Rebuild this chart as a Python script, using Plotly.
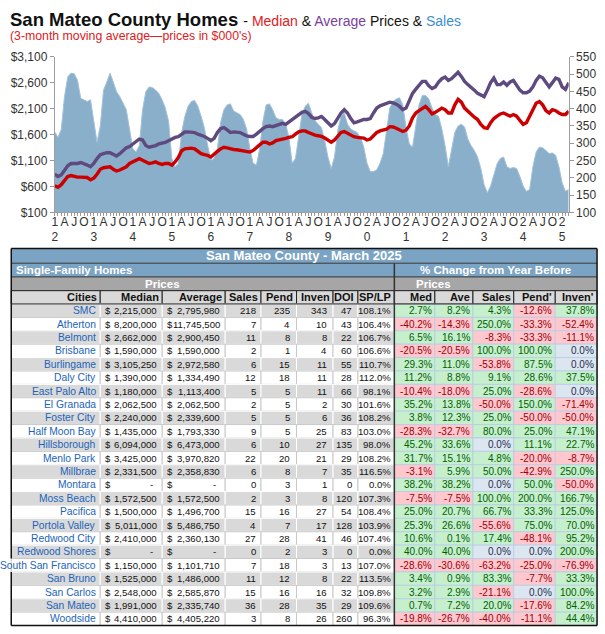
import plotly.graph_objects as go

W, H = 605, 634

# ---------------- chart data (3-month moving averages, Jan 2012 .. Mar 2025) ----------------
months = [f"{2012 + k // 12}-{k % 12 + 1:02d}" for k in range(159)]

sales = [333, 317, 340, 435, 492, 503, 501, 482, 430, 426, 421, 426,
         364, 303, 350, 454, 477, 503, 477, 449, 435, 416, 397, 341,
         284, 275, 293, 397, 449, 463, 461, 454, 444, 426, 402, 364,
         256, 232, 242, 331, 378, 407, 421, 424, 407, 378, 345, 294,
         251, 256, 284, 360, 397, 411, 414, 393, 388, 383, 369, 341,
         284, 242, 237, 284, 364, 411, 414, 397, 374, 369, 369, 355,
         317, 242, 256, 322, 383, 407, 416, 388, 366, 355, 345, 307,
         260, 227, 260, 336, 378, 388, 355, 341, 336, 331, 317, 289,
         242, 218, 218, 223, 242, 270, 336, 402, 421, 428, 432, 411,
         345, 298, 289, 355, 411, 438, 438, 428, 402, 383, 378, 341,
         293, 232, 279, 331, 350, 355, 347, 312, 293, 279, 260, 227,
         180, 157, 176, 208, 241, 256, 260, 232, 227, 230, 227, 204,
         176, 161, 166, 232, 275, 289, 287, 279, 270, 272, 265, 232,
         185, 161, 166]

median = [615, 584, 634, 710, 791, 810, 791, 779, 779, 772, 772, 728,
          760, 835, 930, 961, 967, 980, 930, 898, 917, 949, 980, 1043,
          1074, 1106, 1137, 1106, 1074, 1043, 1056, 1074, 1043, 1024, 1043, 1043,
          1012, 1074, 1160, 1290, 1326, 1339, 1339, 1326, 1276, 1232, 1213, 1200,
          1169, 1213, 1276, 1326, 1357, 1345, 1326, 1313, 1307, 1295, 1295, 1276,
          1263, 1295, 1339, 1402, 1452, 1452, 1420, 1439, 1483, 1496, 1502, 1527,
          1546, 1559, 1609, 1653, 1672, 1672, 1640, 1609, 1590, 1578, 1565, 1534,
          1484, 1452, 1496, 1578, 1641, 1660, 1622, 1597, 1559, 1546, 1546, 1534,
          1496, 1515, 1578, 1641, 1672, 1685, 1704, 1754, 1748, 1722, 1685, 1660,
          1685, 1767, 1924, 2018, 2062, 2100, 2144, 2081, 1999, 2030, 2062, 2112,
          2081, 2018, 2018, 2175, 2282, 2226, 2112, 2050, 1987, 1936, 1892, 1798,
          1735, 1722, 1829, 1911, 1955, 1999, 2018, 1987, 1955, 1987, 1955, 1873,
          1798, 1829, 1955, 2100, 2207, 2238, 2175, 2062, 2018, 2081, 2062, 2018,
          1987, 1987, 2050]

average = [835, 791, 823, 917, 999, 1043, 1043, 1043, 1062, 1043, 1012, 980,
           1043, 1137, 1213, 1232, 1251, 1251, 1213, 1188, 1232, 1295, 1345, 1370,
           1420, 1452, 1515, 1496, 1389, 1357, 1370, 1389, 1420, 1433, 1452, 1483,
           1515, 1546, 1560, 1615, 1650, 1653, 1653, 1640, 1609, 1590, 1565, 1527,
           1483, 1527, 1640, 1716, 1735, 1691, 1640, 1653, 1653, 1640, 1609, 1577,
           1565, 1565, 1609, 1672, 1716, 1754, 1766, 1754, 1779, 1798, 1817, 1798,
           1842, 1880, 1924, 1987, 2030, 2050, 2005, 1936, 1911, 1924, 1949, 1892,
           1829, 1767, 1811, 1911, 2018, 2081, 2018, 1911, 1829, 1848, 1873, 1892,
           1892, 1911, 2018, 2112, 2156, 2175, 2200, 2226, 2213, 2188, 2144, 2081,
           2112, 2251, 2396, 2477, 2553, 2628, 2628, 2540, 2490, 2521, 2616, 2679,
           2710, 2647, 2679, 2741, 2804, 2723, 2628, 2565, 2521, 2458, 2396, 2364,
           2333, 2458, 2603, 2691, 2565, 2565, 2616, 2553, 2616, 2647, 2565, 2458,
           2408, 2408, 2440, 2521, 2647, 2729, 2697, 2603, 2521, 2603, 2691, 2666,
           2521, 2471, 2600]

tick_text = ["1<br>2", "A", "J", "O", "1<br>3", "A", "J", "O", "1<br>4", "A", "J", "O",
             "1<br>5", "A", "J", "O", "1<br>6", "A", "J", "O", "1<br>7", "A", "J", "O",
             "1<br>8", "A", "J", "O", "1<br>9", "A", "J", "O", "2<br>0", "A", "J", "O",
             "2<br>1", "A", "J", "O", "2<br>2", "A", "J", "O", "2<br>3", "A", "J", "O",
             "2<br>4", "A", "J", "O", "2<br>5"]

# ---------------- table data ----------------
cities = ["SMC", "Atherton", "Belmont", "Brisbane", "Burlingame", "Daly City",
          "East Palo Alto", "El Granada", "Foster City", "Half Moon Bay", "Hillsborough",
          "Menlo Park", "Millbrae", "Montara", "Moss Beach", "Pacifica", "Portola Valley",
          "Redwood City", "Redwood Shores", "South San Francisco", "San Bruno",
          "San Carlos", "San Mateo", "Woodside"]
med_price = [2215000, 8200000, 2662000, 1590000, 3105250, 1390000, 1180000, 2062500,
             2240000, 1435000, 6094000, 3425000, 2331500, None, 1572500, 1500000,
             5011000, 2410000, None, 1150000, 1525000, 2548000, 1991000, 4410000]
avg_price = [2795980, 11745500, 2900450, 1590000, 2972580, 1334490, 1113400, 2062500,
             2339600, 1793330, 6473000, 3970820, 2358830, None, 1572500, 1496700,
             5486750, 2360130, None, 1101710, 1486000, 2585870, 2335740, 4405220]
n_sales = [218, 7, 11, 2, 6, 12, 5, 2, 5, 9, 6, 22, 6, 0, 2, 15, 4, 27, 0, 7, 11, 15, 36, 3]
n_pend = [235, 4, 8, 1, 15, 18, 5, 5, 5, 5, 10, 20, 8, 3, 3, 16, 7, 28, 2, 18, 12, 16, 28, 8]
n_inven = [343, 10, 8, 4, 11, 11, 11, 2, 6, 25, 27, 21, 7, 1, 8, 27, 17, 41, 3, 3, 8, 16, 35, 26]
n_doi = [47, 43, 22, 60, 55, 28, 66, 30, 36, 83, 135, 29, 35, 0, 120, 54, 128, 46, 0, 13, 22, 32, 29, 260]
sp_lp = [108.1, 106.4, 106.7, 106.6, 110.7, 112.0, 98.1, 101.6, 108.2, 103.0, 98.0, 108.2,
         116.5, 0.0, 107.3, 108.4, 103.9, 107.4, 0.0, 107.0, 113.5, 109.8, 109.6, 96.3]
chg_med = [2.7, -40.2, 6.5, -20.5, 29.3, 11.2, -10.4, 35.2, 3.8, -28.3, 45.2, 31.7,
           -3.1, 38.2, -7.5, 25.0, 25.3, 10.6, 40.0, -28.6, 3.4, 3.2, 0.7, -19.8]
chg_ave = [8.2, -14.3, 16.1, -20.5, 11.0, 8.8, -18.0, 13.8, 12.3, -32.7, 33.6, 15.1,
           5.9, 38.2, -7.5, 20.7, 26.6, 0.1, 40.0, -30.6, 0.9, 2.9, 7.2, -26.7]
chg_sales = [4.3, 250.0, -8.3, 100.0, -53.8, 9.1, 25.0, -50.0, 25.0, 80.0, 0.0, 4.8,
             50.0, 0.0, 100.0, 66.7, -55.6, 17.4, 0.0, -63.2, 83.3, -21.1, 20.0, -40.0]
chg_pend = [-12.6, -33.3, -33.3, 100.0, 87.5, 28.6, -28.6, 150.0, -50.0, 25.0, 11.1, -20.0,
            -42.9, 50.0, 200.0, 33.3, 75.0, -48.1, 0.0, -25.0, -7.7, 0.0, -17.6, -11.1]
chg_inven = [37.8, -52.4, -11.1, 0.0, 0.0, 37.5, 0.0, -71.4, -50.0, 47.1, 22.7, -8.7,
             250.0, -50.0, 166.7, 125.0, 70.0, 95.2, 200.0, -76.9, 33.3, 100.0, 84.2, 44.4]

# ---------------- figure ----------------
FONT = "Liberation Sans, Arial, sans-serif"
NUM = FONT
NUMSIZE = 9.6
PCTSIZE = 10


def px(x):
    return x / W


def py(y):
    return 1 - y / H


xs = list(range(len(months)))

fig = go.Figure()
fig.add_trace(go.Scatter(x=xs, y=sales, yaxis="y", mode="lines", fill="tozeroy",
                         fillcolor="#8aafcb", line=dict(color="#a3c2da", width=1),
                         hoverinfo="skip", showlegend=False))
fig.add_trace(go.Scatter(x=xs, y=average, yaxis="y2", mode="lines",
                         line=dict(color="#5f4a80", width=3.4), showlegend=False))
fig.add_trace(go.Scatter(x=xs, y=median, yaxis="y2", mode="lines",
                         line=dict(color="#cc0000", width=3.4), showlegend=False))

tick_vals = [xs[k] for k in range(0, len(months), 3)]

fig.update_layout(
    width=W, height=H, autosize=False,
    margin=dict(l=0, r=0, t=0, b=0),
    paper_bgcolor="white", plot_bgcolor="white",
    font=dict(family=FONT, size=12, color="#333333"),
    xaxis=dict(domain=[px(52), px(568.5)], range=[0, len(months) - 1],
               tickmode="array", tickvals=tick_vals, ticktext=tick_text, tickangle=0,
               ticks="outside", ticklen=3, tickcolor="#999999", ticklabelstandoff=-5,
               minor=dict(ticks="outside", ticklen=3, dtick=1, tick0=0, tickcolor="#999999"),
               showline=True, linecolor="#a0a0a0", linewidth=1,
               showgrid=False, zeroline=False,
               tickfont=dict(size=12, color="#333333")),
    yaxis=dict(domain=[py(210), py(51)], range=[100, 550], dtick=50, tick0=100,
               side="right", ticks="outside", ticklen=4, tickcolor="#999999",
               showline=True, linecolor="#a0a0a0", linewidth=1,
               showgrid=False, zeroline=False,
               tickfont=dict(size=12, color="#333333")),
    yaxis2=dict(overlaying="y", side="left", range=[100, 3100], dtick=500, tick0=100,
                tickprefix="$", tickformat=",d",
                ticks="outside", ticklen=4, tickcolor="#999999",
                showline=True, linecolor="#a0a0a0", linewidth=1,
                showgrid=False, zeroline=False,
                tickfont=dict(size=12, color="#333333")),
)

shapes = []
anns = []


def rect(x0, y0, x1, y1, fill, line=None, lw=0):
    shapes.append(dict(type="rect", xref="paper", yref="paper",
                       x0=px(x0), x1=px(x1), y0=py(y1), y1=py(y0),
                       fillcolor=fill, line=dict(color=line or fill, width=lw)))


def seg(x0, y0, x1, y1, color, w):
    shapes.append(dict(type="line", xref="paper", yref="paper",
                       x0=px(x0), x1=px(x1), y0=py(y0), y1=py(y1),
                       line=dict(color=color, width=w)))


def txt(x, y, s, anchor="right", size=NUMSIZE, color="#111111", family=NUM):
    anns.append(dict(x=px(x), y=py(y), xref="paper", yref="paper", text=s,
                     showarrow=False, xanchor=anchor, yanchor="middle",
                     borderpad=0, font=dict(size=size, color=color, family=family)))


# ---- chart titles ----
anns.append(dict(x=px(5), y=py(13), xref="paper", yref="paper", showarrow=False,
                 xanchor="left", yanchor="middle",
                 font=dict(family=FONT, size=18.5, color="#111111"),
                 text="<b>San Mateo County Homes</b> <span style='font-size:14px'>- "
                      "<span style='color:#e0201b'>Median</span> &amp; "
                      "<span style='color:#7a3f9e'>Average</span> Prices &amp; "
                      "<span style='color:#3a8fd0'>Sales</span></span>"))
anns.append(dict(x=px(5), y=py(30), xref="paper", yref="paper", showarrow=False,
                 xanchor="left", yanchor="middle",
                 font=dict(family=FONT, size=12.3, color="#e0201b"),
                 text="(3-month moving average\u2014prices in $000's)"))

# ---- table geometry ----
TL, TR, MID = 8.3, 597.0, 393.3
Y_TITLE, Y_SF, Y_PR, Y_HDR, Y_BODY = 247.0, 262.0, 276.0, 290.0, 303.7
RH = 13.7
left_cols = [TL, 97.7, 160.0, 223.3, 259.3, 295.0, 331.7, 356.7, MID]
right_cols = [MID, 434.0, 472.3, 513.3, 555.0, TR]
Y_END = Y_BODY + RH * len(cities)

BLUE = "#7ba3c3"
GREY = "#a6a6a6"
LIGHT = "#d9d9d9"

rect(TL, Y_TITLE, TR, Y_SF, BLUE)
txt((TL + TR) / 2, (Y_TITLE + Y_SF) / 2, "<b>San Mateo County - March 2025</b>",
    anchor="center", size=13, color="white", family=FONT)
rect(TL, Y_SF, MID, Y_PR, BLUE)
rect(MID, Y_SF, TR, Y_PR, BLUE)
txt(12, (Y_SF + Y_PR) / 2, "<b>Single-Family Homes</b>", anchor="left", size=11.5,
    color="white", family=FONT)
txt((MID + TR) / 2, (Y_SF + Y_PR) / 2, "<b>% Change from Year Before</b>", anchor="center",
    size=11.5, color="white", family=FONT)
rect(TL, Y_PR, MID, Y_HDR, GREY)
rect(MID, Y_PR, TR, Y_HDR, GREY)
txt((left_cols[1] + left_cols[3]) / 2, (Y_PR + Y_HDR) / 2, "<b>Prices</b>", anchor="center",
    size=11.5, color="white", family=FONT)
txt((right_cols[0] + right_cols[2]) / 2, (Y_PR + Y_HDR) / 2, "<b>Prices</b>", anchor="center",
    size=11.5, color="white", family=FONT)

hdr_left = ["Cities", "Median", "Average", "Sales", "Pend", "Inven", "DOI", "SP/LP"]
hdr_right = ["Med", "Ave", "Sales", "Pend'", "Inven'"]
for k, h in enumerate(hdr_left):
    rect(left_cols[k], Y_HDR, left_cols[k + 1], Y_BODY, LIGHT, "#222222", 1)
    txt(left_cols[k + 1] - 2.5, (Y_HDR + Y_BODY) / 2, f"<b>{h}</b>", size=11, color="#111111",
        family=FONT)
for k, h in enumerate(hdr_right):
    rect(right_cols[k], Y_HDR, right_cols[k + 1], Y_BODY, LIGHT, "#222222", 1)
    txt(right_cols[k + 1] - 2, (Y_HDR + Y_BODY) / 2, f"<b>{h}</b>", size=11, color="#111111",
        family=FONT)


def pct_style(v):
    if v > 0:
        return "#c6efce", "#006100"
    if v < 0:
        return "#ffc7ce", "#9c0006"
    return "#dce6f1", "#1f2d4f"


for r, city in enumerate(cities):
    y0 = Y_BODY + r * RH
    y1 = y0 + RH
    yc = (y0 + y1) / 2
    bg = LIGHT if r % 2 == 0 else "white"
    ln = "white" if r % 2 == 0 else "#c8c8c8"
    for k in range(len(left_cols) - 1):
        rect(left_cols[k], y0, left_cols[k + 1], y1, bg, ln, 1)
    txt(94.5, yc, city, size=10.3, color="#1d64b8", family=FONT)
    for col, val in ((1, med_price[r]), (2, avg_price[r])):
        x0, x1 = left_cols[col], left_cols[col + 1]
        txt(x0 + 3.5, yc, "$", anchor="left")
        if val is None:
            txt(x1 - 11, yc, "-", anchor="center")
        else:
            txt(x1 - 4, yc, f"{val:,}")
    txt(left_cols[4] - 4, yc, str(n_sales[r]))
    txt(left_cols[5] - 5.5, yc, str(n_pend[r]))
    txt(left_cols[6] - 5.5, yc, str(n_inven[r]))
    txt(left_cols[7] - 4.5, yc, str(n_doi[r]))
    txt(left_cols[8] - 2, yc, f"{sp_lp[r]:.1f}%")
    for k, vals in enumerate((chg_med, chg_ave, chg_sales, chg_pend, chg_inven)):
        v = vals[r]
        fill, tc = pct_style(v)
        rect(right_cols[k], y0, right_cols[k + 1], y1, fill, "#b7cbe3", 0.8)
        txt(right_cols[k + 1] - 2, yc, f"{v:.1f}%", size=PCTSIZE, color=tc)

# borders
seg(MID, Y_SF, MID, Y_END, "#333333", 1.5)
for yy in (Y_SF, Y_PR, Y_HDR, Y_BODY):
    seg(TL, yy, TR, yy, "#333333", 1)
ssf = cities.index("South San Francisco")
seg(TL, Y_TITLE, TL, Y_BODY + ssf * RH, "#111111", 1.5)
seg(TL, Y_BODY + (ssf + 1) * RH, TL, Y_END, "#111111", 1.5)
seg(TR, Y_TITLE, TR, Y_END, "#111111", 1.5)
seg(TL, Y_TITLE, TR, Y_TITLE, "#111111", 1.5)
seg(TL, Y_END, TR, Y_END, "#111111", 1.5)

fig.update_layout(shapes=shapes, annotations=anns)

fig.write_html("out.html", config={"displayModeBar": False},
               post_script="document.body.style.margin='0px';document.body.style.overflow='hidden';")
